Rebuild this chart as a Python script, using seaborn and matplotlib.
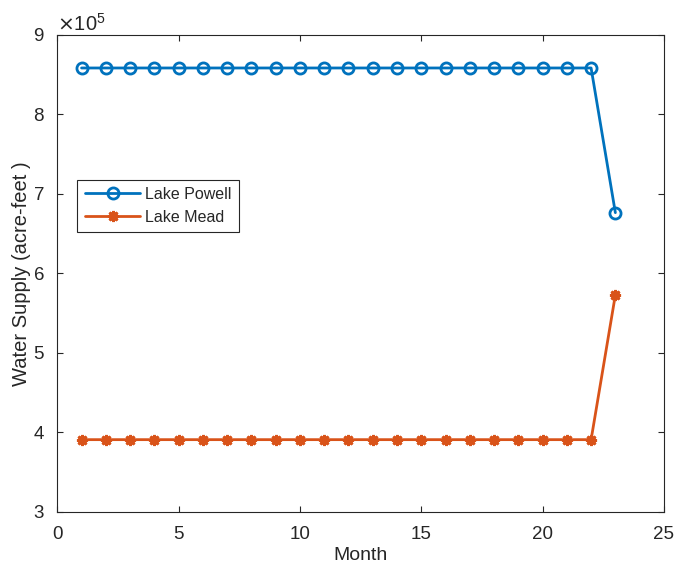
import numpy as np
import pandas as pd
import seaborn as sns
import matplotlib.pyplot as plt
from matplotlib.ticker import ScalarFormatter

# Monthly water supply (acre-feet)
months = [1, 2, 3, 4, 5, 6, 7, 8, 9, 10, 11, 12,
          13, 14, 15, 16, 17, 18, 19, 20, 21, 22, 23]
powell = [858500, 858500, 858500, 858500, 858500, 858500, 858500, 858500,
          858500, 858500, 858500, 858500, 858500, 858500, 858500, 858500,
          858500, 858500, 858500, 858500, 858500, 858500, 676500]
mead = [391000, 391000, 391000, 391000, 391000, 391000, 391000, 391000,
        391000, 391000, 391000, 391000, 391000, 391000, 391000, 391000,
        391000, 391000, 391000, 391000, 391000, 391000, 573000]

blue = '#0072BD'
orange = '#D95319'
axcol = '#262626'

sns.set_theme(style='ticks')
plt.rcParams['font.family'] = ['Liberation Sans', 'DejaVu Sans']
plt.rcParams['xtick.direction'] = 'in'
plt.rcParams['ytick.direction'] = 'in'

fig = plt.figure(figsize=(6.74, 5.68), dpi=100)
ax = fig.add_axes([0.085, 0.0986, 0.9, 0.8398])

sns.lineplot(x=months, y=powell, ax=ax, color=blue, lw=2, marker='o',
             markersize=8, markerfacecolor='none', markeredgecolor=blue,
             markeredgewidth=2, label='Lake Powell')
sns.lineplot(x=months, y=mead, ax=ax, color=orange, lw=2, marker=(8, 2, 0),
             markersize=8, markeredgecolor=orange, markeredgewidth=2,
             label='Lake Mead')

ax.set_xlim(0, 25)
ax.set_ylim(3e5, 9e5)
ax.set_xticks([0, 5, 10, 15, 20, 25])
ax.set_yticks([3e5, 4e5, 5e5, 6e5, 7e5, 8e5, 9e5])

fmt = ScalarFormatter(useMathText=True)
fmt.set_powerlimits((0, 0))
ax.yaxis.set_major_formatter(fmt)
ax.yaxis.get_offset_text().set_fontsize(14.5)
ax.yaxis.get_offset_text().set_color(axcol)

ax.tick_params(axis='both', which='both', top=True, right=True, labelsize=13.5,
               colors=axcol, length=4, width=0.8)
ax.tick_params(axis='x', pad=10)
ax.tick_params(axis='y', pad=9)
for s in ax.spines.values():
    s.set_visible(True)
    s.set_color(axcol)
    s.set_linewidth(0.8)

ax.set_xlabel('Month', fontsize=14, color=axcol, labelpad=3)
ax.set_ylabel('Water Supply (acre-feet )', fontsize=14.5, color=axcol)
ax.yaxis.set_label_coords(-0.044, 0.5)

leg = ax.legend(loc='upper left', bbox_to_anchor=(0.02, 0.713), fontsize=11.5,
                frameon=True, fancybox=False, edgecolor=axcol, framealpha=1,
                handlelength=3.5, borderpad=0.45, labelspacing=0.5,
                handletextpad=0.3)
leg.get_frame().set_linewidth(0.8)

fig.savefig('out.png', dpi=100)
